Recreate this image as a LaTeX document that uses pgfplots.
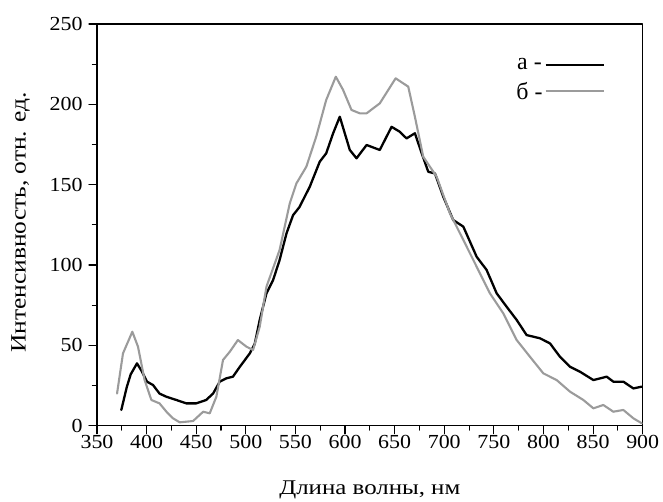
\documentclass[border=0pt]{standalone}
\usepackage{fontspec}
\setmainfont{Liberation Serif}
\usepackage{graphicx}
\usepackage{pgfplots}
\usepackage{pgfplotstable}
\pgfplotsset{compat=1.18}
\definecolor{sergray}{RGB}{155,155,155}
\pgfplotstableread{
x y
374.5 9.8
380 24
384 32
390.3 38.8
395 34
400.4 27.4
406.5 25.3
413 20
420 18
430 16
440 13.9
450 13.9
460 16
467 20
473.7 27.4
480.4 29.5
487 30.5
494 36.7
504 45
509 51
514 65.8
520.8 82.4
527.5 90.7
534 103
541 119.7
547.6 131
554 136
564.5 148.8
574.5 164.3
581 169.5
588 182
594.7 192.3
604.8 171.6
611.6 166.4
621.7 174.7
635 171.6
646.9 186
655 183
662 178.8
670.4 182
677 170
683.9 158
690.6 157
699 142.5
709 128
719.2 123.9
732.6 105.2
742.7 96.9
752.8 82.4
762.9 74
773 65.8
783 56.4
796.5 54.4
806.6 51.2
816.6 42.9
826.7 36.7
836.8 33.6
850.3 28.4
863.7 30.5
870.4 27.4
880.5 27.4
890.6 23.2
899 24.3
}\dataA
\pgfplotstableread{
x y
370.2 20
376.2 45
385.6 58.5
391.3 49.2
398 28.4
404.8 16
413 13.9
420 8.7
426.6 4.6
433.4 2.1
446.8 2.9
457 8.7
463.6 7.7
470.3 18
477 40.9
483.8 46
492 53.3
500.6 49.2
507.3 47.1
514 61.6
520.8 86.5
534 109.3
544.3 138.4
551 150.8
561 161.2
571 180
581 202.7
590.7 217.2
598 209
606.5 196.5
614.9 194.4
621.7 194.4
635 200.6
651 216.2
663.7 211
670.4 192.3
678.8 167.4
692.3 155
705.7 132.2
719.2 115.6
732.6 99
746 82.4
759.5 69.9
773 53.3
786.4 42.9
799.8 32.6
813.3 28.4
826.7 21.2
840.2 16
850.3 10.8
860.3 12.9
870.4 8.7
880.5 9.8
890.6 4.6
899 1.5
}\dataB
\begin{document}
\begin{tikzpicture}
\begin{axis}[
  scale only axis,
  width=545.7bp, height=401.7bp,
  xmin=350, xmax=900, ymin=0, ymax=250,
  xtick={350,400,...,900},
  ytick={0,50,...,250},
  minor x tick num=1, minor y tick num=1,
  tick pos=left, tick align=outside,
  major tick length=8bp, minor tick length=4.5bp,
  axis line style={line width=1.2bp},
  every tick/.style={line width=1.1bp, black},
  /pgf/number format/assume math mode=true,
  /pgf/number format/1000 sep={},
  xticklabel={\scalebox{1.1}[1]{\pgfmathprintnumber{\tick}}},
  yticklabel={\scalebox{1.1}[1]{\pgfmathprintnumber{\tick}}},
  tick label style={font=\fontsize{20}{22}\selectfont},
  xticklabel style={yshift=1.5bp},
  yticklabel style={xshift=-3bp},
  xlabel={\scalebox{1.19}[1]{Длина волны, нм}},
  ylabel={\scalebox{1.16}[1]{Интенсивность, отн. ед.}},
  xlabel style={font=\fontsize{21}{23}\selectfont, at={(axis description cs:0.5,0)}, anchor=center, yshift=-64bp},
  ylabel style={font=\fontsize{22}{24}\selectfont, at={(axis description cs:0,0.5)}, anchor=center, yshift=76.5bp, xshift=2.5bp},
  legend plot pos=right,
  legend style={draw=none, fill=none, at={(axis cs:862,230)}, anchor=north east,
    font=\fontsize{24}{26}\selectfont, row sep=7bp, inner sep=0pt},
  legend image code/.code={\draw[#1] (0bp,0bp) -- (58bp,0bp);},
  line join=round, line cap=round,
]
\addplot[black, line width=2.3bp, no markers] table[x=x,y=y] {\dataA};
\addlegendentry{а -}
\addplot[sergray, line width=2.1bp, no markers] table[x=x,y=y] {\dataB};
\addlegendentry{б -}
\end{axis}
\pgfresetboundingbox
\path[use as bounding box] ([xshift=-97bp,yshift=-76.3bp]current axis.south west) rectangle ([xshift=20.3bp,yshift=24bp]current axis.north east);
\end{tikzpicture}
\end{document}
